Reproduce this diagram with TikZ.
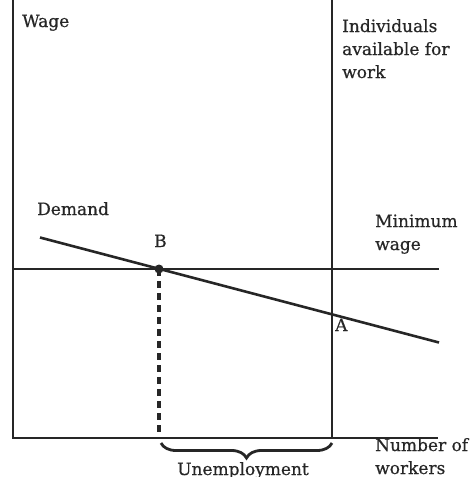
\documentclass[tikz,border=0pt]{standalone}
\usepackage{fontspec}
\setmainfont{DejaVu Serif}
\usetikzlibrary{decorations.pathreplacing}
\begin{document}
\begin{tikzpicture}[x=1pt,y=-1pt,
  axisline/.style={line width=1.5pt,black!85},
  curve/.style={line width=2.6pt,black!85},
  lblfont/.style={font=\fontsize{17}{23}\selectfont\addfontfeature{FakeBold=0.6}},
  lbl/.style={anchor=base west,inner sep=0pt,lblfont,text=black!85,align=left}]
\useasboundingbox (0,0) rectangle (474,477);
\clip (0,0) rectangle (474,477);
% axes
\coordinate (O) at (13,438);
\coordinate (ytop) at (13,0);
\coordinate (xend) at (438,438);
\draw[axisline] (ytop) -- (O) -- (xend);
% labour supply (vertical) and minimum wage (horizontal)
\coordinate (Stop) at (332,0);
\coordinate (Sbot) at (332,438);
\draw[line width=2.2pt,black!85] (Stop) -- (Sbot);
\coordinate (Mleft) at (13,269);
\coordinate (Mright) at (439,269);
\draw[line width=2.2pt,black!85] (Mleft) -- (Mright);
% demand curve
\coordinate (D1) at (40,237.5);
\coordinate (D2) at (439,342.5);
\draw[curve] (D1) -- (D2);
% point B and its projection onto the axis
\coordinate (B) at (159,269);
\coordinate (Bx) at (159,438);
\fill[black!85] (B) circle (4.5);
\draw[line width=4pt,black!85,dash pattern=on 7pt off 5pt] (B) -- (Bx);
% unemployment brace
\coordinate (U1) at (161,443);
\coordinate (U2) at (332,443);
\draw[line width=2.8pt,black!85,decorate,decoration={brace,mirror,amplitude=15pt}] (U1) -- (U2);
% labels (base anchor sits on the last line)
\node[lbl] (wage) at (22,27) {Wage};
\node[lbl] (indiv) at (342,78) {Individuals\\available for\\work};
\node[lbl] (demand) at (37,215) {Demand};
\node[lbl] (Blbl) at (154,247) {B};
\node[lbl] (minw) at (375,250) {Minimum\\wage};
\node[lbl] (Albl) at (335,331) {A};
\node[lbl] (numw) at (375,474) {Number of\\workers};
\node[anchor=base,inner sep=0pt,lblfont,text=black!85] (unemp) at (243,475) {Unemployment};
\end{tikzpicture}
\end{document}
